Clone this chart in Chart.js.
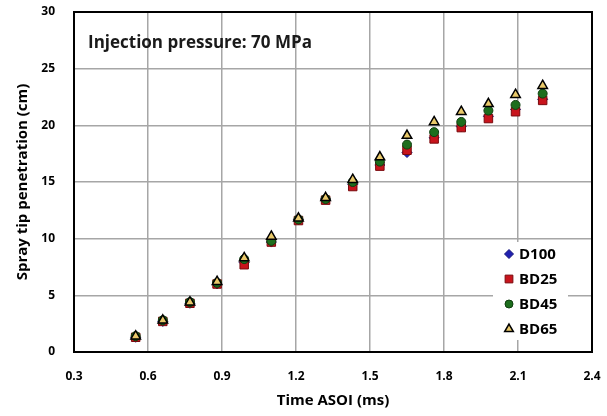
<!DOCTYPE html>
<html>
<head>
<meta charset="utf-8">
<script src="https://cdn.jsdelivr.net/npm/chart.js@4.4.0/dist/chart.umd.min.js"></script>
<style>
  html, body { margin: 0; padding: 0; background: #fff; }
  #wrap { width: 607px; height: 416px; }
</style>
</head>
<body>
<div id="wrap"><canvas id="myChart" width="607" height="416"></canvas></div>
<script>
// time after start of injection (ms)
const times = [0.55, 0.66, 0.77, 0.88, 0.99, 1.10, 1.21, 1.32, 1.43, 1.54, 1.65, 1.76, 1.87, 1.98, 2.09, 2.20];

// spray tip penetration (cm) per fuel
const d100 = [1.3, 2.7, 4.3, 6.0, 7.9, 9.7, 11.7, 13.5, 14.8, 16.5, 17.6, 18.9, 19.9, 20.8, 21.4, 22.3];
const bd25 = [1.3, 2.7, 4.3, 6.0, 7.7, 9.7, 11.6, 13.4, 14.6, 16.4, 17.8, 18.8, 19.8, 20.6, 21.2, 22.2];
const bd45 = [1.4, 2.8, 4.4, 6.1, 8.2, 9.8, 11.7, 13.5, 15.0, 16.8, 18.3, 19.4, 20.3, 21.3, 21.8, 22.8];
const bd65 = [1.4, 2.8, 4.4, 6.2, 8.3, 10.2, 11.8, 13.6, 15.2, 17.2, 19.1, 20.3, 21.2, 21.9, 22.7, 23.5];

// axis ticks
const xTicks = [0.3, 0.6, 0.9, 1.2, 1.5, 1.8, 2.1, 2.4];
const yTicks = [0, 5, 10, 15, 20, 25, 30];

const note = 'Injection pressure: 70 MPa';

const toPoints = (arr) => arr.map((v, i) => ({ x: times[i], y: v }));

const ctx = document.getElementById('myChart');

// frame, note text and the legend box inside the plot
const extras = {
  id: 'extras',
  afterDraw(chart) {
    const c = chart.ctx;
    const a = chart.chartArea;
    c.save();

    // black frame round the plot
    c.strokeStyle = '#000';
    c.lineWidth = 2;
    c.strokeRect(a.left, a.top, a.right - a.left, a.bottom - a.top);

    // note
    c.fillStyle = '#1a1a1a';
    c.font = 'bold 17px "Open Sans"';
    c.textBaseline = 'middle';
    c.textAlign = 'left';
    c.fillText(note, a.left + 14, a.top + 31);

    // legend
    const lx = a.left + 419, ly = a.top + 230;
    c.fillStyle = '#fff';
    c.fillRect(lx, ly, 75, 98);
    chart.data.datasets.forEach((ds, k) => {
      const y = ly + 12 + k * 25;
      c.fillStyle = ds.backgroundColor;
      c.strokeStyle = ds.borderColor;
      c.lineWidth = ds.borderWidth;
      Chart.helpers.drawPoint(c, { pointStyle: ds.pointStyle, radius: ds.pointRadius - 0.5, rotation: 0, borderWidth: ds.borderWidth }, lx + 16, y);
      c.fillStyle = '#000';
      c.font = 'bold 15px "Open Sans"';
      c.fillText(ds.label, lx + 26, y + 1);
    });
    c.restore();
  }
};

// no extra room for half labels at the ends
const noPad = (s) => { s.paddingTop = 0; s.paddingBottom = 0; s.paddingLeft = 0; s.paddingRight = 0; };

new Chart(ctx, {
  type: 'scatter',
  data: {
    datasets: [
      { label: 'D100', data: toPoints(d100), pointStyle: 'rectRot', pointRadius: 5, backgroundColor: '#2020b0', borderColor: '#15157a', borderWidth: 1, order: 4 },
      { label: 'BD25', data: toPoints(bd25), pointStyle: 'rect', pointRadius: 6, backgroundColor: '#c8141c', borderColor: '#7a0a0e', borderWidth: 1, order: 3 },
      { label: 'BD45', data: toPoints(bd45), pointStyle: 'circle', pointRadius: 4.5, backgroundColor: '#1d6e1d', borderColor: '#0f3f0f', borderWidth: 1, order: 2 },
      { label: 'BD65', data: toPoints(bd65), pointStyle: 'triangle', pointRadius: 5.5, backgroundColor: '#e9c96a', borderColor: '#000', borderWidth: 1.5, order: 1 }
    ]
  },
  options: {
    responsive: false,
    animation: false,
    layout: { padding: { top: 12, right: 15, left: 0, bottom: 0 } },
    plugins: {
      legend: { display: false },
      tooltip: { enabled: false }
    },
    scales: {
      x: {
        type: 'linear',
        min: 0.3,
        max: 2.4,
        afterBuildTicks: (s) => { s.ticks = xTicks.map(v => ({ value: v })); },
        afterFit: (s) => { s.height = 64; noPad(s); },
        grid: { color: '#a6a6a6', lineWidth: 1.5, drawTicks: false },
        border: { display: false },
        ticks: {
          padding: 17,
          color: '#000',
          font: { family: 'Open Sans', weight: 'bold', size: 12 },
          callback: (v) => Number(v).toFixed(1)
        },
        title: {
          display: true,
          text: 'Time ASOI (ms)',
          color: '#000',
          font: { family: 'Open Sans', weight: 'bold', size: 15 },
          padding: { top: 0, bottom: 6 }
        }
      },
      y: {
        min: 0,
        max: 30,
        afterBuildTicks: (s) => { s.ticks = yTicks.map(v => ({ value: v })); },
        afterFit: (s) => { s.width = 74; noPad(s); },
        grid: { color: '#a6a6a6', lineWidth: 1.5, drawTicks: false },
        border: { display: false },
        ticks: {
          padding: 19,
          color: '#000',
          font: { family: 'Open Sans', weight: 'bold', size: 12 }
        },
        title: {
          display: true,
          text: 'Spray tip penetration (cm)',
          color: '#000',
          font: { family: 'Open Sans', weight: 'bold', size: 15 },
          padding: { top: 14, bottom: 0 }
        }
      }
    }
  },
  plugins: [extras]
});
</script>
</body>
</html>
